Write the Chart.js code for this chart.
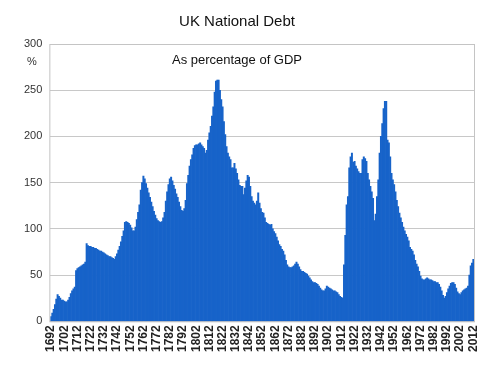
<!DOCTYPE html>
<html lang="en">
<head>
<meta charset="UTF-8">
<title>UK National Debt</title>
<script src="https://cdn.jsdelivr.net/npm/chart.js"></script>
<style>
  body { margin: 0; background: #fff; }
  #wrap { width: 500px; height: 375px; }
</style>
</head>
<body>
<div id="wrap"><canvas id="debtChart" width="500" height="375"></canvas></div>
<script>
// Data: UK national debt, % of GDP, one value per year 1692..2012
const firstYear = 1692;
const lastYear = 2012;
const debtPct = [
  5, 9, 13, 18, 24, 29, 27, 25, 23, 23,            // 1692
  22, 21, 21, 23, 26, 30, 33, 35, 37, 55,          // 1702
  57, 58, 59, 60, 61, 62, 64, 84, 82, 81,          // 1712
  81, 80, 80, 79, 79, 78, 77, 76, 76, 75,          // 1722
  74, 73, 72, 71, 70, 70, 69, 68, 67, 70,          // 1732
  73, 77, 81, 86, 92, 98, 107, 108, 107, 106,      // 1742
  104, 101, 98, 98, 102, 110, 118, 126, 142, 150,  // 1752
  157, 154, 149, 144, 139, 134, 129, 124, 119, 115,// 1762
  111, 109, 108, 107, 108, 112, 118, 130, 140, 148,// 1772
  154, 156, 152, 147, 143, 138, 134, 129, 124, 120,// 1782
  119, 122, 131, 149, 158, 168, 175, 180, 187, 190,// 1792
  191, 191, 192, 193, 191, 189, 187, 182, 185, 196,// 1802
  204, 211, 222, 232, 248, 260, 261, 261, 250, 240,// 1812
  232, 216, 202, 189, 182, 178, 175, 166, 166, 171,// 1822
  165, 160, 153, 147, 146, 146, 137, 144, 152, 158,// 1832
  156, 146, 135, 130, 128, 126, 130, 139, 128, 122,// 1842
  118, 117, 112, 107, 106, 105, 104, 105, 100, 97, // 1852
  95, 91, 87, 83, 81, 78, 76, 72, 66, 61,          // 1862
  59, 58, 58, 59, 60, 62, 64, 62, 59, 56,          // 1872
  54, 54, 53, 52, 51, 49, 47, 45, 43, 42,          // 1882
  42, 41, 40, 38, 36, 34, 33, 33, 35, 38,          // 1892
  37, 36, 35, 34, 33, 33, 32, 31, 29, 27,          // 1902
  26, 25, 61, 93, 126, 135, 166, 178, 182, 172,    // 1912
  173, 168, 165, 162, 160, 160, 175, 178, 176, 173,// 1922
  160, 153, 146, 140, 133, 109, 116, 135, 153, 182,// 1932
  200, 214, 230, 238, 238, 196, 193, 178, 160, 153,// 1942
  148, 140, 131, 124, 117, 112, 107, 102, 98, 94,  // 1952
  91, 87, 80, 78, 76, 72, 66, 62, 59, 54,          // 1962
  49, 46, 45, 45, 46, 47, 46, 45, 45, 44,          // 1972
  43, 43, 42, 42, 40, 37, 33, 28, 25, 27,          // 1982
  31, 35, 38, 41, 42, 42, 40, 36, 32, 30,          // 1992
  29, 31, 33, 34, 35, 36, 38, 50, 60, 63,          // 2002
  67                                               // 2012
];
const yMin = 0;
const yMax = 300;
const yStep = 50;
const labelEvery = 10;

const titleText = 'UK National Debt';
const subtitleText = 'As percentage of GDP';
const unitText = '%';

const years = [];
for (let y = firstYear; y <= lastYear; y++) years.push(String(y));

// draws the frame, title, subtitle and unit label
const textPlugin = {
  id: 'chartText',
  beforeDatasetsDraw(chart) {
    const { ctx, chartArea } = chart;
    ctx.save();
    ctx.strokeStyle = '#c4c4c4';
    ctx.lineWidth = 1;
    ctx.strokeRect(chartArea.left - 0.5, chartArea.top + 0.5, chartArea.width + 1, chartArea.height);
    ctx.restore();
  },
  afterDraw(chart) {
    const { ctx, chartArea } = chart;
    ctx.save();
    ctx.fillStyle = '#111';
    ctx.textAlign = 'center';
    ctx.textBaseline = 'middle';
    ctx.font = '15px "Liberation Sans", Arial, sans-serif';
    ctx.fillText(titleText, 237, 22);
    ctx.font = '13px "Liberation Sans", Arial, sans-serif';
    ctx.fillText(subtitleText, 237, chartArea.top + 16);
    ctx.fillStyle = '#333';
    ctx.font = '11px "Liberation Sans", Arial, sans-serif';
    ctx.fillText(unitText, 32, chartArea.top + 18);
    ctx.restore();
  }
};

const ctx = document.getElementById('debtChart').getContext('2d');
new Chart(ctx, {
  type: 'bar',
  data: {
    labels: years,
    datasets: [{
      label: 'UK national debt (% of GDP)',
      data: debtPct,
      backgroundColor: '#1763c9',
      borderWidth: 0,
      barPercentage: 1,
      categoryPercentage: 1
    }]
  },
  options: {
    responsive: false,
    animation: false,
    layout: { padding: { left: 16, right: 26, top: 44, bottom: 19 } },
    plugins: {
      legend: { display: false },
      tooltip: { enabled: false },
      title: { display: false }
    },
    scales: {
      x: {
        grid: { display: false, drawTicks: false },
        border: { display: false },
        ticks: {
          autoSkip: false,
          minRotation: 90,
          maxRotation: 90,
          padding: 4,
          color: '#222',
          font: { family: '"Liberation Sans", Arial, sans-serif', size: 12, weight: 'bold' },
          callback: function (val, i) {
            return i % labelEvery === 0 ? this.getLabelForValue(val) : '';
          }
        }
      },
      y: {
        min: yMin,
        max: yMax,
        grid: { color: '#c8c8c8', drawTicks: false },
        border: { display: false },
        ticks: {
          stepSize: yStep,
          padding: 8,
          color: '#333',
          font: { family: '"Liberation Sans", Arial, sans-serif', size: 11 }
        }
      }
    }
  },
  plugins: [textPlugin]
});
</script>
</body>
</html>
